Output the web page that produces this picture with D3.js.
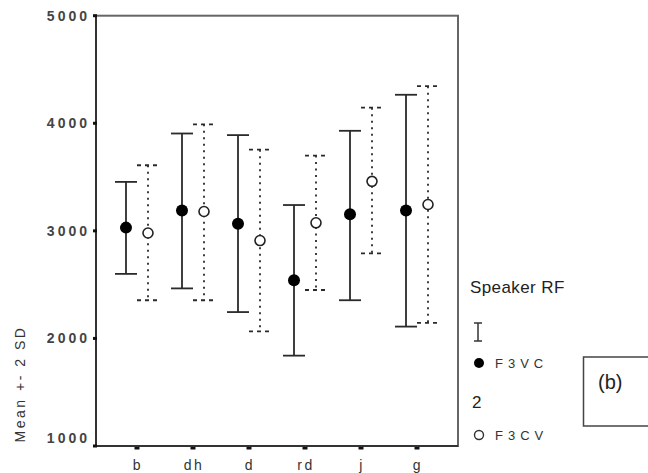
<!DOCTYPE html>
<html lang="en">
<meta charset="UTF-8">
<title>Mean +- 2 SD</title>
<script src="https://d3js.org/d3.v7.min.js"></script>
<style>
body { margin: 0; background: #fff; }
</style>
<body>
<svg width="648" height="473" font-family="Liberation Sans, Arial, sans-serif"></svg>
<script>
// categories and series values (mean, lower = mean-2SD, upper = mean+2SD)
const categories = ['b', 'dh', 'd', 'rd', 'j', 'g'];
const f3vcMean  = [3030, 3190, 3065, 2540, 3155, 3190];
const f3vcLower = [2600, 2465, 2245, 1840, 2355, 2110];
const f3vcUpper = [3455, 3905, 3890, 3240, 3930, 4265];
const f3cvMean  = [2980, 3180, 2910, 3075, 3460, 3245];
const f3cvLower = [2355, 2355, 2065, 2450, 2790, 2145];
const f3cvUpper = [3610, 3990, 3755, 3700, 4145, 4345];
const yTicks = [1000, 2000, 3000, 4000, 5000];

const svg = d3.select('svg');

const x = d3.scaleBand()
  .domain(categories)
  .range([96, 458])
  .paddingInner(0)
  .paddingOuter(0.232);

const y = d3.scaleLinear()
  .domain([1000, 5000])
  .range([446, 15.7]);

const cx = c => x(c) + x.bandwidth() / 2;
const off = 11;
const capW = 11;

// frame: top/right lighter, left/bottom axis darker
svg.append('rect')
  .attr('x', x.range()[0]).attr('y', y(5000))
  .attr('width', x.range()[1] - x.range()[0])
  .attr('height', y(1000) - y(5000))
  .attr('fill', 'none')
  .attr('stroke', '#666')
  .attr('stroke-width', 2);
svg.append('path')
  .attr('d', `M${x.range()[0]},${y(5000)}V${y(1000)}H${x.range()[1]}`)
  .attr('fill', 'none')
  .attr('stroke', '#333')
  .attr('stroke-width', 2);

// y axis ticks
yTicks.forEach(t => {
  svg.append('rect')
    .attr('x', 93).attr('y', y(t) - 1.5)
    .attr('width', 4).attr('height', 3)
    .attr('fill', '#111');
  svg.append('text')
    .attr('x', 90)
    .attr('y', t === 1000 ? y(t) - 8 : y(t))
    .attr('dy', '0.35em')
    .attr('text-anchor', 'end')
    .attr('font-size', 14)
    .attr('font-weight', 'bold')
    .attr('letter-spacing', '3px')
    .attr('fill', '#444')
    .text(t);
});

// x axis ticks
categories.forEach(c => {
  svg.append('rect')
    .attr('x', cx(c) - 2.5).attr('y', y(1000) + 1)
    .attr('width', 5).attr('height', 2.5)
    .attr('fill', '#111');
  svg.append('text')
    .attr('x', cx(c) + 1)
    .attr('y', 470)
    .attr('text-anchor', 'middle')
    .attr('font-size', 14)
    .attr('letter-spacing', '2.5px')
    .attr('fill', '#333')
    .text(c);
});

// y title
svg.append('text')
  .attr('transform', 'translate(25,384) rotate(-90)')
  .attr('text-anchor', 'middle')
  .attr('font-size', 14)
  .attr('letter-spacing', '2.5px')
  .attr('fill', '#333')
  .text('Mean +- 2 SD');

// series 1: solid bars, filled dots
categories.forEach((c, i) => {
  const px = cx(c) - off;
  const g = svg.append('g').attr('stroke', '#2a2a2a').attr('stroke-width', 1.8);
  g.append('line').attr('x1', px).attr('x2', px)
    .attr('y1', y(f3vcUpper[i])).attr('y2', y(f3vcLower[i]));
  g.append('line').attr('x1', px - capW).attr('x2', px + capW)
    .attr('y1', y(f3vcUpper[i])).attr('y2', y(f3vcUpper[i]));
  g.append('line').attr('x1', px - capW).attr('x2', px + capW)
    .attr('y1', y(f3vcLower[i])).attr('y2', y(f3vcLower[i]));
  svg.append('circle')
    .attr('cx', px).attr('cy', y(f3vcMean[i]))
    .attr('r', 6).attr('fill', '#000');
});

// series 2: dotted bars, open dots
categories.forEach((c, i) => {
  const px = cx(c) + off;
  const g = svg.append('g').attr('stroke', '#2a2a2a').attr('stroke-width', 1.8);
  g.append('line').attr('x1', px).attr('x2', px)
    .attr('y1', y(f3cvUpper[i])).attr('y2', y(f3cvLower[i]))
    .attr('stroke-dasharray', '2,4.5');
  g.append('line').attr('x1', px - capW).attr('x2', px + capW)
    .attr('y1', y(f3cvUpper[i])).attr('y2', y(f3cvUpper[i]))
    .attr('stroke-dasharray', '4,4');
  g.append('line').attr('x1', px - capW).attr('x2', px + capW)
    .attr('y1', y(f3cvLower[i])).attr('y2', y(f3cvLower[i]))
    .attr('stroke-dasharray', '4,4');
  svg.append('circle')
    .attr('cx', px).attr('cy', y(f3cvMean[i]))
    .attr('r', 5).attr('fill', '#fff')
    .attr('stroke', '#222').attr('stroke-width', 1.6);
});

// legend
const lg = svg.append('g');
lg.append('text')
  .attr('x', 470).attr('y', 293)
  .attr('font-size', 17).attr('letter-spacing', '0.4px').attr('fill', '#222')
  .text('Speaker RF');
// small error bar glyph
lg.append('line').attr('x1', 478).attr('x2', 478).attr('y1', 323).attr('y2', 341)
  .attr('stroke', '#333').attr('stroke-width', 1.5);
lg.append('line').attr('x1', 474).attr('x2', 482).attr('y1', 323).attr('y2', 323)
  .attr('stroke', '#333').attr('stroke-width', 1.5);
lg.append('line').attr('x1', 474).attr('x2', 482).attr('y1', 341).attr('y2', 341)
  .attr('stroke', '#333').attr('stroke-width', 1.5);
lg.append('circle').attr('cx', 479).attr('cy', 363).attr('r', 5).attr('fill', '#000');
lg.append('text')
  .attr('x', 495).attr('y', 363).attr('dy', '0.35em')
  .attr('font-size', 13).attr('letter-spacing', '5px').attr('fill', '#333')
  .text('F3VC');
lg.append('text')
  .attr('x', 472).attr('y', 402).attr('dy', '0.35em')
  .attr('font-size', 17).attr('fill', '#222')
  .text('2');
lg.append('circle').attr('cx', 479).attr('cy', 435).attr('r', 4.5)
  .attr('fill', '#fff').attr('stroke', '#333').attr('stroke-width', 1.4);
lg.append('text')
  .attr('x', 495).attr('y', 435).attr('dy', '0.35em')
  .attr('font-size', 13).attr('letter-spacing', '5px').attr('fill', '#333')
  .text('F3CV');

// panel label box
svg.append('rect')
  .attr('x', 583.5).attr('y', 357).attr('width', 70).attr('height', 69)
  .attr('fill', 'none').attr('stroke', '#444').attr('stroke-width', 1.5);
svg.append('text')
  .attr('x', 598).attr('y', 382).attr('dy', '0.35em')
  .attr('font-size', 20).attr('fill', '#222')
  .text('(b)');
</script>
</body>
</html>
